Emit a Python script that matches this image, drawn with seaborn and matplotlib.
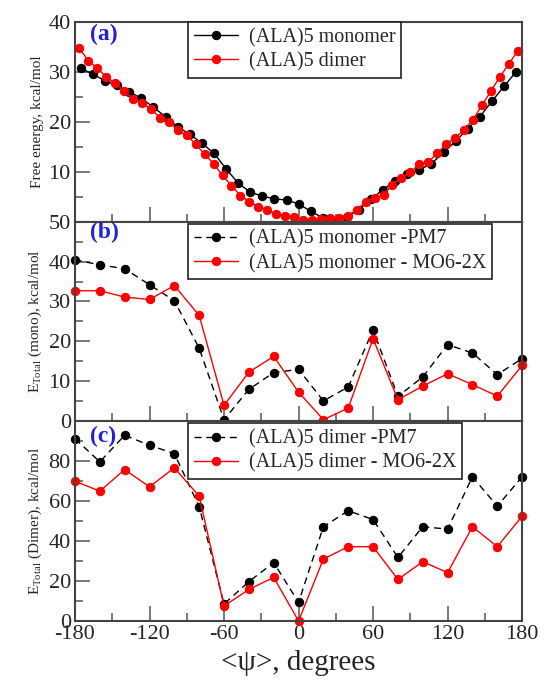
import numpy as np
import pandas as pd
import matplotlib
matplotlib.use('Agg')
import matplotlib.pyplot as plt
import seaborn as sns
from matplotlib.ticker import MultipleLocator

# ---- panel (a): free energy profiles ----
psi_mono_a = [-175.1, -165.4, -155.7, -145.9, -136.2, -126.5, -116.8, -107.0, -97.3, -87.6,
              -77.8, -68.1, -58.4, -48.6, -38.9, -29.2, -19.5, -9.7, 0.0, 9.7,
              19.5, 29.2, 38.9, 48.6, 58.4, 68.1, 77.8, 87.6, 97.3, 107.0,
              116.8, 126.5, 136.2, 145.9, 155.7, 165.4, 175.1]
fe_mono = [30.7, 29.5, 28.2, 27.3, 26.0, 24.7, 22.9, 21.0, 19.0, 17.5,
           15.7, 13.7, 10.6, 7.7, 5.9, 5.1, 4.55, 4.35, 3.55, 2.1,
           0.74, 0.07, 1.0, 2.35, 4.55, 6.4, 8.2, 9.6, 10.4, 11.6,
           13.9, 16.1, 18.6, 21.0, 24.1, 27.1, 30.0]

psi_dim_a = [-176.4, -169.2, -162.0, -154.8, -147.6, -140.4, -133.2, -126.0, -118.8, -111.6,
             -104.4, -97.2, -90.0, -82.8, -75.6, -68.4, -61.2, -54.0, -46.8, -39.6,
             -32.4, -25.2, -18.0, -10.8, -3.6, 3.6, 10.8, 18.0, 25.2, 32.4,
             39.6, 46.8, 54.0, 61.2, 68.4, 75.6, 82.8, 90.0, 97.2, 104.4,
             111.6, 118.8, 126.0, 133.2, 140.4, 147.6, 154.8, 162.0, 169.2, 176.4]
fe_dim = [34.7, 32.2, 30.7, 29.0, 27.7, 26.2, 24.5, 23.7, 22.6, 20.8,
          20.0, 18.3, 17.3, 15.5, 13.5, 11.6, 9.25, 7.2, 5.2, 4.0,
          3.0, 2.35, 1.55, 1.07, 0.87, 0.33, 0.33, 0.54, 0.67, 0.67,
          1.2, 2.35, 3.9, 4.75, 5.4, 7.4, 8.8, 9.9, 11.5, 11.9,
          13.7, 15.5, 16.8, 18.3, 20.4, 23.3, 26.1, 29.0, 31.5, 34.2]

# ---- panels (b) and (c): total energies every 20 degrees ----
psi_bc = [-180, -160, -140, -120, -100, -80, -60, -40, -20, 0,
          20, 40, 60, 80, 100, 120, 140, 160, 180]
mono_pm7 = [40.4, 39.2, 38.2, 34.2, 30.2, 18.3, 0.4, 8.0, 12.2, 13.0,
            5.1, 8.6, 22.9, 6.25, 11.1, 19.2, 17.1, 11.7, 15.7]
mono_m06 = [32.7, 32.7, 31.1, 30.5, 34.0, 26.5, 4.0, 12.3, 16.25, 7.3,
            0.4, 3.3, 20.7, 5.4, 8.8, 11.9, 9.2, 6.3, 14.0]
dim_pm7 = [91.3, 79.7, 93.0, 88.0, 83.8, 57.2, 8.5, 19.7, 29.2, 9.3,
           47.2, 55.2, 50.8, 31.8, 47.2, 46.0, 72.2, 57.5, 72.2]
dim_m06 = [70.0, 65.0, 75.8, 67.2, 76.7, 62.5, 7.5, 15.8, 21.8, 0.0,
           31.0, 37.2, 37.2, 20.8, 29.7, 24.2, 47.2, 37.2, 52.5]

sns.set_style('ticks')
plt.rcParams['font.family'] = ['Liberation Serif', 'DejaVu Serif']
plt.rcParams['mathtext.fontset'] = 'custom'
plt.rcParams['mathtext.rm'] = 'Liberation Serif'
plt.rcParams['axes.unicode_minus'] = False

fig, axes = plt.subplots(3, 1, figsize=(5.45, 6.86), dpi=100, sharex=True)
fig.subplots_adjust(left=0.1376, right=0.958, top=0.968, bottom=0.0948, hspace=0)

RED = '#ff0000'
mk = dict(marker='o', markersize=6, linewidth=1.0, clip_on=False)

ax = axes[0]
sns.lineplot(x=psi_mono_a, y=fe_mono, color='black', markeredgecolor='black',
             label='(ALA)5 monomer', ax=ax, **mk)
sns.lineplot(x=psi_dim_a, y=fe_dim, color=RED, markeredgecolor=RED,
             label='(ALA)5 dimer', ax=ax, **mk)
ax.set_ylim(0, 40)
ax.set_yticks([10, 20, 30, 40])
ax.yaxis.set_minor_locator(MultipleLocator(5))
ax.set_ylabel('Free energy, kcal/mol', fontsize=11, labelpad=3)

ax = axes[1]
sns.lineplot(x=psi_bc, y=mono_pm7, color='black', markeredgecolor='black',
             linestyle=(0, (5, 3.5)), label='(ALA)5 monomer -PM7', ax=ax, **mk)
sns.lineplot(x=psi_bc, y=mono_m06, color=RED, markeredgecolor=RED,
             label='(ALA)5 monomer - MO6-2X', ax=ax, **mk)
ax.set_ylim(0, 50)
ax.set_yticks([0, 10, 20, 30, 40, 50])
ax.yaxis.set_minor_locator(MultipleLocator(5))
ax.set_ylabel(r'E$_{\rm Total}$ (mono), kcal/mol', fontsize=11, labelpad=3)

ax = axes[2]
sns.lineplot(x=psi_bc, y=dim_pm7, color='black', markeredgecolor='black',
             linestyle=(0, (5, 3.5)), label='(ALA)5 dimer -PM7', ax=ax, **mk)
sns.lineplot(x=psi_bc, y=dim_m06, color=RED, markeredgecolor=RED,
             label='(ALA)5 dimer - MO6-2X', ax=ax, **mk)
ax.set_ylim(0, 100)
ax.set_yticks([0, 20, 40, 60, 80])
ax.yaxis.set_minor_locator(MultipleLocator(10))
ax.set_ylabel(r'E$_{\rm Total}$ (Dimer), kcal/mol', fontsize=11, labelpad=3)

ax.set_xlim(-180, 180)
ax.set_xticks([-180, -120, -60, 0, 60, 120, 180])
ax.xaxis.set_minor_locator(MultipleLocator(30))
ax.set_xlabel('<ψ>, degrees', fontsize=21, labelpad=4)

panel_txt = ['(a)', '(b)', '(c)']
panel_y = [0.935, 0.945, 0.925]
leg_top = [1.0, 0.99, 0.99]
for a, t, py, lt in zip(axes, panel_txt, panel_y, leg_top):
    for s in a.spines.values():
        s.set_linewidth(1.5)
        s.set_color('#444444')
    a.tick_params(which='both', direction='in', top=False, right=False,
                  color='#555555', width=1.1, labelsize=16, pad=3)
    a.tick_params(which='major', length=11)
    a.tick_params(which='minor', length=5.5)
    a.text(0.034, py, t, transform=a.transAxes, color='#2020dd', fontsize=17,
           fontweight='bold', ha='left', va='center')
    leg = a.legend(loc='upper left', bbox_to_anchor=(0.253, lt), borderaxespad=0,
                   fontsize=14.5, frameon=True, fancybox=False, framealpha=1,
                   edgecolor='#222222', handlelength=2.2, handletextpad=0.5,
                   borderpad=0.3, labelspacing=0.25)
    leg.get_frame().set_linewidth(1.2)

plt.savefig('out.png', dpi=100)
